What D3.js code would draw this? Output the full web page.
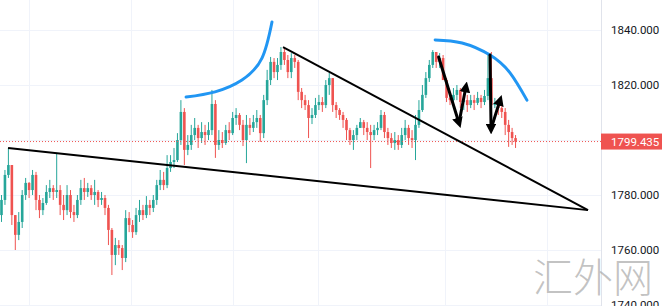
<!DOCTYPE html>
<html lang="zh">
<head>
<meta charset="UTF-8">
<title>XAUUSD</title>
<script src="https://d3js.org/d3.v7.min.js"></script>
<style>
  html, body { margin: 0; padding: 0; background: #fff; }
  svg { display: block; }
</style>
</head>
<body>
<div id="chart"></div>
<script>
// candle data (hourly); open = previous close
var firstOpen = 1772.7;
var closes = [1778.2,1787.3,1790.9,1772.7,1765.5,1770.2,1780.0,1784.4,1781.8,1787.3,
  1778.2,1774.5,1777.1,1781.1,1782.5,1781.1,1781.8,1776.4,1774.5,1780.0,
  1773.8,1772.7,1778.2,1782.5,1781.1,1782.5,1780.0,1781.1,1778.2,1778.9,
  1775.3,1767.3,1758.2,1761.8,1760.7,1757.1,1771.6,1769.1,1766.5,1772.7,
  1774.5,1772.7,1776.4,1775.3,1778.2,1783.6,1785.5,1783.6,1789.8,1792.0,
  1792.7,1800.0,1810.2,1796.4,1798.2,1801.8,1804.4,1800.7,1802.9,1801.8,
  1803.6,1813.1,1798.2,1800.0,1798.9,1803.6,1802.5,1808.0,1809.1,1805.5,
  1800.0,1805.5,1804.4,1806.5,1808.0,1802.5,1814.5,1821.8,1828.4,1824.7,
  1827.3,1832.0,1829.1,1824.7,1829.8,1828.4,1817.5,1814.5,1812.7,1808.0,
  1809.1,1812.7,1813.8,1812.7,1820.0,1822.5,1812.7,1810.9,1809.1,1807.3,
  1803.6,1800.0,1801.8,1804.4,1806.5,1804.4,1802.9,1801.8,1803.6,1804.4,
  1809.1,1802.9,1800.7,1798.9,1800.0,1798.2,1801.8,1804.4,1800.7,1800.0,
  1805.5,1810.9,1816.4,1822.5,1827.3,1832.0,1828.4,1829.8,1821.8,1815.3,
  1814.5,1816.4,1818.2,1813.8,1814.5,1812.7,1814.5,1813.5,1815.3,1813.8,
  1816.0,1822.5,1812.7,1813.5,1811.6,1810.2,1805.5,1802.9,1800.7,1799.435];
var highs = [1780.0,1789.1,1797.1,1790.9,1772.7,1773.8,1781.8,1786.2,1784.7,1789.1,
  1788.4,1780.0,1778.9,1783.6,1785.5,1783.6,1795.3,1783.6,1780.0,1783.6,
  1781.8,1776.4,1780.0,1785.5,1786.2,1784.4,1783.6,1785.5,1781.8,1781.1,
  1780.0,1776.4,1768.0,1764.4,1763.6,1761.8,1774.5,1773.8,1770.9,1775.3,
  1778.2,1776.4,1779.6,1778.2,1780.0,1785.5,1789.1,1788.4,1794.5,1794.5,
  1797.1,1802.5,1814.5,1811.6,1801.8,1805.5,1808.0,1805.5,1806.5,1805.5,
  1806.5,1818.2,1814.5,1803.6,1802.9,1805.5,1806.5,1810.2,1811.6,1809.8,
  1807.3,1809.1,1808.0,1809.1,1810.9,1809.1,1816.4,1825.5,1830.2,1829.8,
  1829.8,1833.8,1833.5,1830.9,1831.6,1830.9,1829.1,1818.9,1816.4,1814.5,
  1811.6,1815.3,1816.4,1815.6,1821.8,1824.4,1822.5,1813.8,1811.6,1810.2,
  1808.0,1804.4,1803.6,1805.5,1808.0,1807.3,1806.5,1805.5,1805.5,1806.5,
  1810.9,1810.2,1804.4,1802.5,1802.9,1801.8,1804.4,1807.3,1805.5,1803.6,
  1809.1,1814.5,1820.0,1824.7,1829.1,1832.7,1832.0,1831.6,1830.9,1822.5,
  1817.5,1818.9,1820.0,1818.9,1816.4,1816.4,1816.4,1816.4,1817.5,1816.4,
  1818.2,1830.9,1832.0,1815.3,1814.5,1812.7,1811.6,1807.3,1804.4,1801.8];
var lows = [1770.2,1776.4,1786.2,1769.1,1760.0,1763.6,1768.0,1778.2,1778.9,1780.0,
  1774.5,1771.6,1772.7,1776.4,1778.9,1778.2,1778.9,1772.7,1770.9,1772.7,
  1771.6,1770.2,1771.6,1776.4,1778.2,1779.3,1778.2,1776.4,1775.6,1776.4,
  1772.7,1761.8,1750.9,1754.5,1758.2,1752.7,1755.6,1766.5,1764.4,1765.5,
  1770.2,1770.9,1771.6,1772.7,1773.8,1776.4,1781.8,1781.8,1782.5,1788.4,
  1789.8,1792.0,1798.2,1790.9,1794.5,1796.4,1800.0,1797.1,1798.9,1798.2,
  1800.0,1801.8,1793.5,1796.4,1797.1,1798.2,1800.0,1801.8,1805.5,1803.6,
  1797.8,1791.6,1801.8,1802.9,1804.4,1799.3,1800.7,1812.7,1820.0,1822.5,
  1821.8,1825.5,1827.3,1822.5,1822.5,1826.2,1814.5,1811.6,1810.9,1800.7,
  1805.8,1808.0,1810.9,1810.2,1811.6,1816.4,1810.2,1808.0,1807.3,1804.4,
  1800.0,1798.2,1796.4,1800.0,1804.4,1801.8,1800.0,1789.8,1800.0,1801.8,
  1803.6,1800.7,1798.2,1797.1,1796.4,1796.4,1797.1,1800.0,1798.2,1797.1,
  1792.7,1804.4,1810.2,1815.3,1821.1,1826.2,1826.2,1826.2,1826.2,1813.8,
  1812.7,1812.7,1814.5,1811.6,1810.9,1810.2,1811.6,1810.9,1812.7,1811.6,
  1812.7,1814.5,1810.9,1811.6,1809.1,1808.0,1801.8,1797.5,1798.2,1797.1];

var priceTicks = [1740, 1760, 1780, 1800, 1820, 1840];
var lastPrice = 1799.435;
// day separators (candle index)
var dayIdx = [8, 37.5, 67, 91.7, 128.5, 158];

// drawings: [candle index, price]
var trendLow = [[1.9, 1797.1], [170, 1774.5]];
var trendHigh = [[81.6, 1833.8], [170, 1774.5]];
var arcLeft = [[53.5, 1815.6], [61.9, 1817.5], [69.7, 1821.8], [75.5, 1829.8], [78.4, 1842.9]];
var arcRight = [[125.7, 1836.4], [133.5, 1835.3], [141.6, 1830.9], [147.4, 1824.4], [152.3, 1814.5]];
var arrows = [
  [[126.7, 1830.2], [132.6, 1806.2]],
  [[132.6, 1806.2], [134.6, 1819.3]],
  [[141.6, 1830.9], [141.9, 1804.0]],
  [[141.9, 1804.0], [144.5, 1814.5]]
];

var W = 663, H = 306, axisX = 601;
var green = "#26a69a", red = "#ef5350";

var svg = d3.select("#chart").append("svg")
  .attr("width", W).attr("height", H);

var x = d3.scaleLinear().domain([0, 170]).range([1.5, 588]);
var y = d3.scaleLinear().domain([1740, 1840]).range([305, 30]);

var defs = svg.append("defs");
defs.append("clipPath").attr("id", "plot")
  .append("rect").attr("width", axisX).attr("height", H);
defs.append("marker").attr("id", "head")
  .attr("viewBox", "0 0 10 10").attr("refX", 5).attr("refY", 5)
  .attr("markerWidth", 3.6).attr("markerHeight", 3.6)
  .attr("orient", "auto")
  .append("path").attr("d", "M0,0L10,5L0,10z").attr("fill", "#000");

// grid
var grid = svg.append("g").attr("clip-path", "url(#plot)");
grid.selectAll(".hg").data(priceTicks).enter().append("line")
  .attr("x1", 0).attr("x2", axisX)
  .attr("y1", d => Math.round(y(d)) + 0.5).attr("y2", d => Math.round(y(d)) + 0.5)
  .attr("stroke", "#f0f3fa");
grid.selectAll(".vg").data(dayIdx).enter().append("line")
  .attr("x1", d => Math.round(x(d)) + 0.5).attr("x2", d => Math.round(x(d)) + 0.5)
  .attr("y1", 0).attr("y2", H)
  .attr("stroke", "#f0f3fa");

// candles
var candles = closes.map(function(c, i) {
  return { i: i, o: i ? closes[i - 1] : firstOpen, h: highs[i], l: lows[i], c: c };
});
var plot = svg.append("g").attr("clip-path", "url(#plot)");
var cg = plot.selectAll(".candle").data(candles).enter().append("g");
cg.append("line")
  .attr("x1", d => x(d.i)).attr("x2", d => x(d.i))
  .attr("y1", d => y(Math.max(d.h, d.o, d.c))).attr("y2", d => y(Math.min(d.l, d.o, d.c)))
  .attr("stroke", d => d.c >= d.o ? green : red).attr("stroke-width", 1);
cg.append("rect")
  .attr("x", d => x(d.i) - 1.3).attr("width", 2.6)
  .attr("y", d => y(Math.max(d.o, d.c)))
  .attr("height", d => Math.max(1, Math.abs(y(d.o) - y(d.c))))
  .attr("fill", d => d.c >= d.o ? green : red);

// last price line
plot.append("line")
  .attr("x1", 0).attr("x2", axisX)
  .attr("y1", y(lastPrice)).attr("y2", y(lastPrice))
  .attr("stroke", red).attr("stroke-width", 1).attr("stroke-dasharray", "1,2");

// drawings
var line = d3.line().x(d => x(d[0])).y(d => y(d[1]));
[trendLow, trendHigh].forEach(function(t) {
  plot.append("path").attr("d", line(t))
    .attr("fill", "none").attr("stroke", "#000").attr("stroke-width", 2);
});
var curve = d3.line().x(d => x(d[0])).y(d => y(d[1])).curve(d3.curveNatural);
[arcLeft, arcRight].forEach(function(a) {
  plot.append("path").attr("d", curve(a))
    .attr("fill", "none").attr("stroke", "#2196f3").attr("stroke-width", 3)
    .attr("stroke-linecap", "round");
});
arrows.forEach(function(a) {
  plot.append("path").attr("d", line(a))
    .attr("fill", "none").attr("stroke", "#000").attr("stroke-width", 3)
    .attr("stroke-linecap", "round")
    .attr("marker-end", "url(#head)");
});

// price axis
svg.append("line")
  .attr("x1", axisX + 0.5).attr("x2", axisX + 0.5).attr("y1", 0).attr("y2", H)
  .attr("stroke", "#e0e3eb");
var axis = svg.append("g")
  .attr("transform", "translate(" + axisX + ",0)")
  .call(d3.axisRight(y).tickValues(priceTicks).tickSize(0).tickPadding(10)
    .tickFormat(d3.format(".3f")));
axis.select(".domain").remove();
axis.selectAll("text")
  .attr("fill", "#131722")
  .style("font-family", "Roboto, 'Liberation Sans', Arial, sans-serif")
  .style("font-size", "11.5px");

// watermark
svg.append("text")
  .attr("x", 593).attr("y", 292)
  .attr("text-anchor", "middle")
  .attr("fill", "#a8a8a8").attr("fill-opacity", 0.7)
  .style("font-family", "'Noto Sans CJK SC', sans-serif")
  .style("font-weight", 200)
  .style("font-size", "40px")
  .text("汇外网");

// last price tag
var tag = svg.append("g").attr("transform", "translate(" + axisX + "," + y(lastPrice) + ")");
tag.append("rect").attr("x", 0).attr("y", -8).attr("width", 61).attr("height", 16)
  .attr("fill", red);
tag.append("text").attr("x", 10).attr("y", 4)
  .attr("fill", "#fff")
  .style("font-family", "Roboto, 'Liberation Sans', Arial, sans-serif")
  .style("font-size", "11.5px")
  .text(d3.format(".3f")(lastPrice));
</script>
</body>
</html>
